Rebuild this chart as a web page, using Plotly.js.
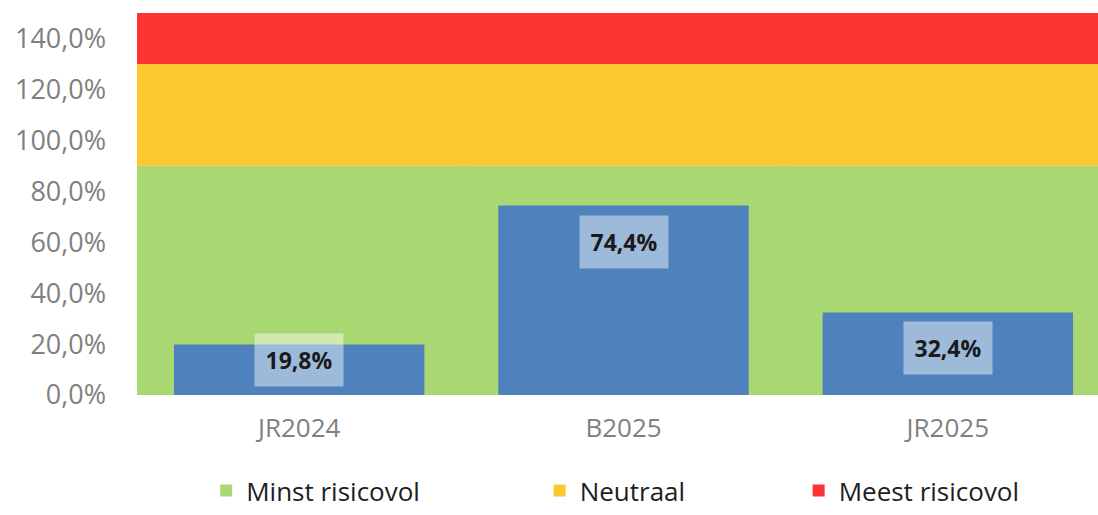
<!DOCTYPE html>
<html>
<head>
<meta charset="utf-8">
<script src="https://cdn.plot.ly/plotly-3.0.1.min.js"></script>
<style>html,body{margin:0;padding:0;background:#fff;}#chart{width:1098px;height:515px;}</style>
</head>
<body>
<div id="chart"></div>
<script>
// Data
const categories = ["JR2024", "B2025", "JR2025"];
const values = [19.8, 74.4, 32.4];
const bandNames = ["Minst risicovol", "Neutraal", "Meest risicovol"];
const bandLower = [0, 90, 130];
const bandUpper = [90, 130, 150];
const bandColors = ["#A9D872", "#FCC831", "#FE3333"];
const yTicks = [0, 20, 40, 60, 80, 100, 120, 140];

const fmt = v => v.toFixed(1).replace(".", ",") + "%";

const traces = [];
const legendIds = ["legend", "legend2", "legend3"];
bandNames.forEach((name, i) => {
  traces.push({
    type: "bar",
    name: name,
    x: categories,
    y: categories.map(() => bandUpper[i] - bandLower[i]),
    base: categories.map(() => bandLower[i]),
    width: 1.02,
    marker: {color: bandColors[i], line: {width: 0}},
    hoverinfo: "skip",
    legend: legendIds[i],
    showlegend: true
  });
});
traces.push({
  type: "bar",
  name: "Waarde",
  x: categories,
  y: values,
  width: 0.772,
  marker: {color: "#4F81BD", line: {width: 0}},
  showlegend: false
});

const annotations = categories.map((c, i) => ({
  x: c, xref: "x",
  y: Math.max(values[i], 28), yref: "y",
  yanchor: "top", xanchor: "center",
  yshift: -9,
  text: "<b>" + fmt(values[i]) + "</b>",
  showarrow: false,
  font: {family: "Open Sans, sans-serif", size: 23, color: "#1a1a1a"},
  bgcolor: "rgba(255,255,255,0.45)",
  borderpad: 0,
  width: 88, height: 52
}));

const legendBase = {
  orientation: "h", yanchor: "bottom", y: -0.312, xanchor: "left",
  font: {family: "Open Sans, sans-serif", size: 26, color: "#1e1e1e"},
  bgcolor: "rgba(0,0,0,0)"
};

const layout = {
  width: 1098, height: 515,
  margin: {l: 137, r: 0, t: 13, b: 120, pad: 0, autoexpand: false},
  paper_bgcolor: "#ffffff",
  plot_bgcolor: "#ffffff",
  barmode: "overlay",
  xaxis: {
    type: "category",
    range: [-0.5, 2.463],
    showgrid: false, zeroline: false, showline: false,
    ticks: "",
    tickfont: {family: "Open Sans, sans-serif", size: 26, color: "#808080"},
    ticklabelstandoff: 15
  },
  yaxis: {
    range: [0, 150],
    tickvals: yTicks,
    ticktext: yTicks.map(fmt),
    showgrid: false, zeroline: false, showline: false,
    ticks: "",
    ticklabelstandoff: 30,
    tickfont: {family: "Open Sans, sans-serif", size: 27, color: "#808080"}
  },
  legend: Object.assign({}, legendBase, {x: 0.072}),
  legend2: Object.assign({}, legendBase, {x: 0.419}),
  legend3: Object.assign({}, legendBase, {x: 0.6885}),
  annotations: annotations,
  showlegend: true
};

Plotly.newPlot("chart", traces, layout, {displayModeBar: false, staticPlot: true});
</script>
</body>
</html>
